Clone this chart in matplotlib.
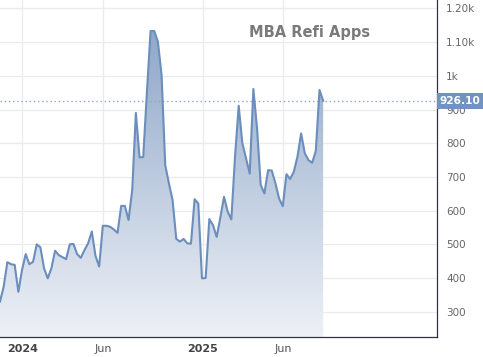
import numpy as np
import matplotlib
matplotlib.use("Agg")
import matplotlib.pyplot as plt
from matplotlib.colors import LinearSegmentedColormap

# weekly MBA refinance index
refi = [330, 374, 447, 441, 439, 359, 424, 471, 441, 448,
        500, 491, 429, 399, 429, 481, 468, 462, 456, 500,
        501, 471, 460, 483, 503, 538, 466, 434, 555, 555,
        552, 544, 534, 614, 614, 572, 661, 890, 758, 759,
        950, 1133, 1133, 1101, 1002, 735, 681, 631, 516, 508,
        516, 503, 502, 634, 621, 399, 400, 575, 557, 522,
        579, 641, 597, 574, 760, 911, 800, 755, 710, 961,
        844, 676, 651, 720, 719, 681, 636, 613, 708, 694,
        715, 760, 829, 770, 750, 742, 777, 958, 926.10]
weeks = np.arange(len(refi))

last_value = 926.10
title = "MBA Refi Apps"

xtick_pos = [6.1, 28.1, 55.2, 77.2]
xtick_labels = ["2024", "Jun", "2025", "Jun"]
ytick_vals = [300, 400, 500, 600, 700, 800, 900, 1000, 1100, 1200]
ytick_labels = ["300", "400", "500", "600", "700", "800", "900", "1k", "1.10k", "1.20k"]

line_color = "#6b8ebc"
ylo, yhi = 225, 1225
xlo, xhi = 0, 119.0

fig = plt.figure(figsize=(4.83, 3.57), dpi=100)
ax = fig.add_axes([0, 20 / 357, 437 / 483, 337 / 357])

# gradient area under the line
cmap = LinearSegmentedColormap.from_list("fade", ["#eef1f6", "#86a0c5"])
grad = np.linspace(0, 1, 256).reshape(-1, 1)
poly = ax.fill_between(weeks, refi, ylo, color="none", lw=0)
im = ax.imshow(grad, cmap=cmap, aspect="auto", origin="lower",
               extent=[xlo, xhi, ylo, yhi], zorder=1)
im.set_clip_path(poly.get_paths()[0], transform=ax.transData)

ax.plot(weeks, refi, color=line_color, lw=1.5, zorder=3, solid_joinstyle="round")

# last value marker line
ax.axhline(last_value, color="#8fa8cc", lw=1, ls=(0, (1, 2)), zorder=2)

ax.set_xlim(xlo, xhi)
ax.set_ylim(ylo, yhi)

ax.set_yticks(ytick_vals)
ax.set_yticklabels(ytick_labels)
ax.yaxis.tick_right()
ax.set_xticks(xtick_pos)
ax.set_xticklabels(xtick_labels)
ax.tick_params(axis="y", length=0, pad=6.5, labelsize=7.5, labelcolor="#666666")
ax.tick_params(axis="x", length=0, pad=5, labelsize=8, labelcolor="#555555")
for lbl in ax.get_xticklabels():
    if lbl.get_text().isdigit():
        lbl.set_fontweight("bold")
        lbl.set_color("#444444")

ax.grid(True, color="#ebebeb", lw=0.9, zorder=0)
ax.set_axisbelow(True)

for side in ["left", "top"]:
    ax.spines[side].set_visible(False)
for side in ["right", "bottom"]:
    ax.spines[side].set_color("#333344")
    ax.spines[side].set_linewidth(0.9)

ax.text(0.708, 0.905, title, transform=ax.transAxes, ha="center", va="center",
        fontsize=10.5, fontweight="bold", color="#7a7a7a")

# last value tag on the axis
ax.annotate(f"{last_value:.2f}", xy=(1.0, last_value), xycoords=("axes fraction", "data"),
            xytext=(2.0, 0), textcoords="offset points", ha="left", va="center",
            fontsize=7.6, fontweight="semibold", color="white", annotation_clip=False,
            bbox=dict(boxstyle="square,pad=0.3", fc="#7393bf", ec="none"), zorder=5)

fig.savefig("out.png", dpi=100)
